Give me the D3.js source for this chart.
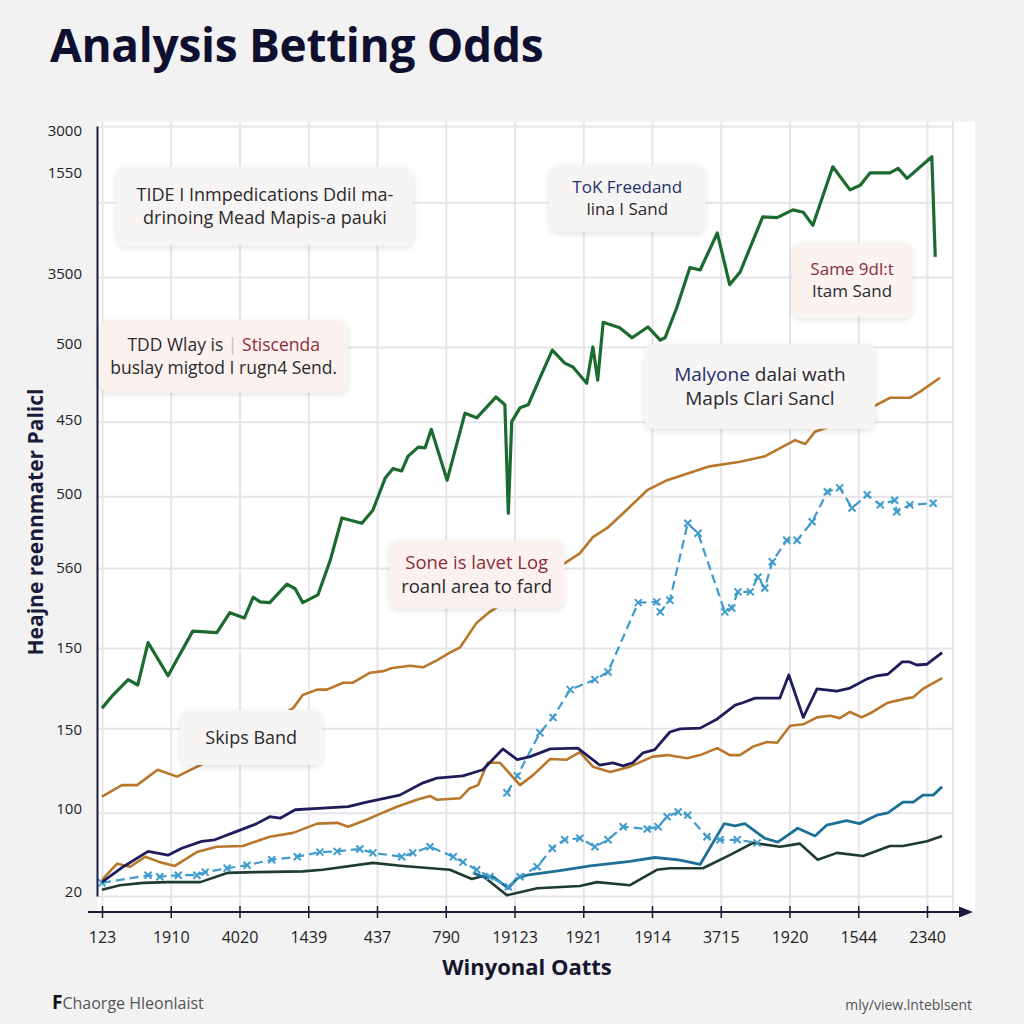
<!DOCTYPE html>
<html>
<head>
<meta charset="utf-8">
<script src="https://cdn.jsdelivr.net/npm/d3@7"></script>
<style>
  html, body { margin: 0; padding: 0; background: #f2f2f3; }
  svg { display: block; }
</style>
</head>
<body>
<svg id="chart" width="1024" height="1024"></svg>
<script>
// ---------- DATA ----------
const xTickLabels = ["123","1910","4020","1439","437","790","19123","1921","1914","3715","1920","1544","2340"];
const xTickValues = [0,10,20,30,40,50,60,70,80,90,100,110,120];
const yTickLabels = ["20","100","150","150","560","500","450","500","3500","1550","3000"];
const yTickValues = [0.6,11.3,21.6,32.3,42.6,52.2,61.8,71.7,80.8,94.0,99.4];
const yGridValues = [0,10.8,21.8,32.2,42.6,51.9,61.6,71.3,80.4,90.1,100];

// series: [x, value]
const greenSeries = [[0,24.4],[1.6,26.1],[3.8,28.1],[5.2,27.4],[6.7,32.9],[9.6,28.6],[13.2,34.4],[16.7,34.2],[18.6,36.8],[20.7,36.1],[22.0,38.8],[23.0,38.2],[24.4,38.1],[26.9,40.5],[28.1,39.9],[29.2,38.1],[31.4,39.1],[33.2,43.6],[34.9,49.1],[37.8,48.4],[39.4,50.1],[41.2,54.3],[42.3,55.5],[43.6,55.2],[44.5,57.1],[46.0,58.3],[47.0,58.2],[47.9,60.6],[50.2,54.0],[52.8,62.7],[54.5,62.1],[57.3,64.8],[58.6,63.8],[59.1,49.7],[59.6,61.6],[60.8,63.4],[62.0,63.8],[63.7,67.3],[65.5,70.9],[67.3,69.2],[68.5,68.7],[70.5,66.6],[71.4,71.3],[72.1,67.0],[72.9,74.5],[75.3,73.8],[77.1,72.5],[79.4,73.9],[81.2,72.2],[81.9,72.5],[83.6,76.4],[85.5,81.6],[87.0,81.3],[89.5,86.1],[91.3,79.4],[92.8,81.0],[96.1,88.2],[98.2,88.1],[100.5,89.1],[102.0,88.8],[103.4,87.1],[106.3,94.7],[108.8,91.7],[110.3,92.3],[111.7,93.9],[114.6,93.9],[115.8,94.5],[117.1,93.2],[120.7,96.0],[121.2,83.0]];

const orangeUpper = [[0,12.9],[2.9,14.4],[5.1,14.4],[8.1,16.4],[10.9,15.5],[14.3,17.0],[27.8,24.4],[29.2,26.1],[31.3,26.8],[32.7,26.8],[35.1,27.7],[36.5,27.7],[39.0,29.0],[40.9,29.2],[42.2,29.6],[44.8,29.9],[46.7,29.7],[48.7,30.6],[50.6,31.6],[52.1,32.3],[54.5,35.5],[56.4,36.9],[67.6,43.4],[69.5,44.5],[71.4,46.6],[73.5,47.8],[75.8,49.7],[79.3,52.7],[82.2,54.0],[88.4,55.8],[92.8,56.4],[96.4,57.1],[100.8,59.2],[102.3,58.7],[103.7,60.3],[106.6,61.2],[110.3,62.5],[112.7,63.8],[114.6,64.7],[117.5,64.7],[119.0,65.5],[121.9,67.3]];

const navySeries = [[0,1.8],[3.1,3.8],[6.7,5.8],[9.6,5.3],[11.6,6.2],[14.5,7.1],[16.4,7.3],[19.6,8.4],[22.5,9.4],[24.4,10.3],[25.9,10.1],[28.1,11.2],[32.1,11.4],[35.8,11.6],[38.5,12.2],[43.3,13.1],[46.7,14.7],[48.7,15.3],[52.5,15.6],[55.4,16.4],[58.3,19.1],[60.4,17.7],[62.3,18.1],[65.2,19.1],[69.2,19.2],[72.4,17.0],[74.3,17.3],[75.8,16.9],[77.2,17.3],[78.7,18.6],[80.4,19.0],[82.6,21.3],[84.1,21.7],[87.0,21.8],[89.5,23.0],[92.1,24.8],[93.2,25.1],[95.0,25.7],[98.6,25.7],[99.9,28.7],[102.0,23.2],[104.0,26.9],[106.9,26.6],[108.8,27.0],[111.3,28.2],[112.7,28.6],[114.3,28.8],[116.4,30.4],[117.5,30.4],[118.5,30.0],[120.0,30.1],[122.2,31.6]];

const orangeLower = [[0,2.1],[2.2,4.2],[4.1,3.8],[6.3,5.1],[8.4,4.4],[10.6,3.9],[13.8,5.7],[16.7,6.4],[20.5,6.5],[24.4,7.7],[27.8,8.2],[31.3,9.4],[34.2,9.5],[35.8,9.0],[38.5,9.9],[40.0,10.5],[42.9,11.6],[45.8,12.5],[47.7,13.0],[48.7,12.5],[52.1,12.7],[53.5,14.0],[54.7,14.4],[56.1,17.3],[57.9,17.3],[60.8,14.4],[62.7,15.7],[65.2,17.8],[67.6,17.7],[69.5,18.7],[71.4,16.8],[73.9,16.1],[76.8,16.8],[80.1,18.1],[82.2,18.3],[85.1,17.9],[87.0,18.3],[89.5,19.2],[91.3,18.3],[92.8,18.3],[94.7,19.4],[96.7,20.0],[98.2,19.9],[100.1,22.1],[102.0,22.3],[104.0,23.2],[105.9,23.4],[107.3,23.1],[108.8,23.9],[110.5,23.2],[112.1,23.9],[114.3,25.1],[117.2,25.7],[118.0,25.8],[119.4,26.9],[122.2,28.3]];

const dashedUpper = [[58.9,13.4],[60.4,15.6],[63.7,21.2],[65.6,23.2],[68.1,26.8],[71.7,28.1],[73.6,29.1],[78.0,38.1],[80.7,38.2],[81.2,36.9],[82.6,38.4],[85.2,48.4],[86.7,47.1],[90.6,36.9],[91.6,37.4],[92.5,39.5],[94.3,39.5],[95.4,41.4],[96.4,40.0],[97.5,43.4],[99.6,46.2],[101.1,46.2],[103.3,48.6],[105.5,52.5],[107.3,53.0],[109.1,50.4],[111.3,52.1],[113.2,50.8],[115.3,51.4],[115.6,49.9],[117.5,50.8],[120.9,51.0]];

const dashedLower = [[0,1.7],[6.7,2.7],[8.4,2.5],[11.1,2.7],[13.8,2.7],[15.0,3.1],[18.2,3.6],[21.1,4.0],[24.7,4.7],[28.4,5.1],[31.7,5.7],[34.2,5.8],[37.5,6.1],[39.4,5.6],[43.6,5.1],[45.2,5.6],[47.7,6.4],[51.1,5.1],[52.5,4.4],[54.5,3.4],[56.4,2.5],[59.1,1.2],[60.8,2.5],[63.3,3.8],[65.5,6.2],[67.3,7.3],[69.5,7.5],[71.7,6.4],[73.6,7.3],[75.8,9.0],[79.3,8.7],[80.9,9.0],[82.2,10.3],[83.8,10.9],[85.2,10.5],[88.0,7.7],[89.9,7.3],[92.4,7.3],[95.3,6.9]];

const tealSeries = [[54.0,3.0],[55.4,2.5],[56.9,2.5],[59.1,1.0],[60.4,2.3],[61.8,2.7],[66.6,3.3],[71.0,3.9],[74.9,4.3],[76.8,4.5],[80.4,5.0],[83.9,4.7],[87.0,4.1],[90.5,9.4],[92.1,9.1],[93.5,9.4],[96.4,7.5],[98.3,7.0],[101.2,8.8],[103.7,7.8],[105.4,9.2],[108.3,9.8],[110.2,9.4],[112.7,10.5],[114.3,10.8],[116.5,12.2],[118.0,12.2],[119.4,13.1],[120.9,13.1],[122.2,14.2]];

const darkSeries = [[0,0.8],[2.6,1.4],[6.0,1.7],[9.5,1.8],[14.3,1.8],[18.2,3.0],[22.5,3.1],[29.2,3.2],[32.1,3.4],[39.4,4.3],[43.8,3.9],[50.6,3.4],[53.8,2.2],[55.4,2.6],[58.9,0.1],[63.3,1.0],[69.5,1.3],[72.0,1.8],[76.8,1.4],[80.7,3.4],[82.6,3.6],[87.4,3.6],[91.3,5.3],[94.7,6.9],[98.6,6.4],[101.5,6.8],[104.1,4.7],[106.9,5.6],[110.7,5.2],[114.6,6.5],[116.5,6.5],[120.0,7.1],[122.2,7.8]];

// annotation boxes: centre in data units, text lines as parts [text, colorKey]
const annotations = [
  {x: 23.7, y: 89.6, w: 296, h: 79, lines: [[["TIDE I Inmpedications Ddil ma-","ink"]],[["drinoing Mead Mapis-a pauki","ink"]]], size: 18, fill: "#f7f5f3"},
  {x: 76.4, y: 90.6, w: 156, h: 67, lines: [[["ToK Freedand","navy"]],[["lina I Sand","ink"]]], size: 17, fill: "#f7f5f3"},
  {x: 109.1, y: 80.0, w: 120, h: 75, lines: [[["Same 9dl:t","red"]],[["Itam Sand","ink"]]], size: 17, fill: "#faf3f0"},
  {x: 17.7, y: 70.1, w: 248, h: 72, lines: [[["TDD Wlay is  ","ink"],["|  ","faint"],["Stiscenda","red"]],[["buslay migtod I rugn4 Send.","ink"]]], size: 17.5, fill: "#fbf2ef"},
  {x: 95.7, y: 66.2, w: 230, h: 85, lines: [[["Malyone","navy"],[" dalai wath","ink"]],[["Mapls Clari Sancl","ink"]]], size: 19, fill: "#f7f5f3"},
  {x: 54.5, y: 41.8, w: 175, h: 68, lines: [[["Sone is lavet Log","red"]],[["roanl area to fard","ink"]]], size: 18.5, fill: "#fbf2ef"},
  {x: 21.7, y: 20.6, w: 142, h: 55, lines: [[["Skips Band","ink"]]], size: 18, fill: "#f7f5f3"}
];

const palette = {ink: "#2a2a2e", navy: "#24306e", red: "#8c2d3c", faint: "#d8b7b0"};

// ---------- CHART ----------
const svg = d3.select("#chart");
const plot = {left: 97, right: 953, top: 122, bottom: 912};

const x = d3.scaleLinear().domain([0, 120]).range([102, 927]);
const y = d3.scaleLinear().domain([0, 100]).range([896, 126]);

const defs = svg.append("defs");
const f = defs.append("filter").attr("id", "shadow").attr("x", "-10%").attr("y", "-20%").attr("width", "120%").attr("height", "150%");
f.append("feDropShadow").attr("dx", 0).attr("dy", 2).attr("stdDeviation", 3).attr("flood-color", "#000").attr("flood-opacity", 0.12);
defs.append("marker").attr("id", "arrow").attr("viewBox", "0 0 10 10").attr("refX", 5).attr("refY", 5)
  .attr("markerWidth", 7).attr("markerHeight", 7).attr("orient", "auto")
  .append("path").attr("d", "M0,1 L10,5 L0,9 z").attr("fill", "#1a1a40");

// plot background
svg.append("rect").attr("x", plot.left).attr("y", plot.top).attr("width", 975 - plot.left).attr("height", plot.bottom - plot.top)
  .attr("fill", "#ffffff");

// grid
const gridG = svg.append("g");
gridG.append("g").attr("transform", `translate(0,${plot.bottom})`)
  .call(d3.axisBottom(x).tickValues(xTickValues).tickSize(plot.bottom - plot.top).tickFormat(""))
  .call(g => g.select(".domain").remove())
  .call(g => g.selectAll("line").attr("stroke", "#e6e6ea").attr("stroke-width", 2).attr("transform", "scale(1,-1)"));
gridG.append("g").attr("transform", `translate(${plot.left},0)`)
  .call(d3.axisRight(y).tickValues(yGridValues).tickSize(plot.right - plot.left).tickFormat(""))
  .call(g => g.select(".domain").remove())
  .call(g => g.selectAll("line").attr("stroke", "#e6e6ea").attr("stroke-width", 2));
gridG.append("line").attr("x1", plot.right).attr("x2", plot.right).attr("y1", plot.top).attr("y2", plot.bottom)
  .attr("stroke", "#e6e6ea").attr("stroke-width", 2);

// lines
const line = d3.line().x(d => x(d[0])).y(d => y(d[1]));
function drawLine(data, color, width, dash) {
  svg.append("path").datum(data).attr("d", line).attr("fill", "none")
    .attr("stroke", color).attr("stroke-width", width).attr("stroke-linejoin", "round")
    .attr("stroke-dasharray", dash || null);
}
function drawCrosses(data, color) {
  svg.append("g").selectAll("path").data(data).join("path")
    .attr("d", d => { const cx = x(d[0]), cy = y(d[1]), s = 3.5;
      return `M${cx-s},${cy-s}L${cx+s},${cy+s}M${cx-s},${cy+s}L${cx+s},${cy-s}`; })
    .attr("stroke", color).attr("stroke-width", 2).attr("fill", "none");
}

drawLine(darkSeries, "#1e3b2f", 2.6);
drawLine(tealSeries, "#1f7096", 2.8);
drawLine(dashedLower, "#3f9ccc", 2.2, "9,5");
drawCrosses(dashedLower, "#3f9ccc");
drawLine(dashedUpper, "#3f9ccc", 2.2, "9,5");
drawCrosses(dashedUpper, "#3f9ccc");
drawLine(orangeLower, "#b8772b", 2.6);
drawLine(navySeries, "#1f1c5c", 2.8);
drawLine(orangeUpper, "#b8772b", 2.6);
drawLine(greenSeries, "#1b6b30", 3.2);

// annotations
annotations.forEach(a => {
  const g = svg.append("g").attr("transform", `translate(${x(a.x)},${y(a.y)})`);
  g.append("rect").attr("x", -a.w / 2).attr("y", -a.h / 2).attr("width", a.w).attr("height", a.h)
    .attr("rx", 9).attr("fill", a.fill).attr("filter", "url(#shadow)");
  const lh = a.size * 1.3;
  const n = a.lines.length;
  a.lines.forEach((parts, i) => {
    const t = g.append("text").attr("text-anchor", "middle")
      .attr("y", (i - (n - 1) / 2) * lh + a.size * 0.35)
      .attr("font-family", "'Open Sans', sans-serif").attr("font-size", a.size);
    parts.forEach(p => t.append("tspan").text(p[0]).attr("fill", palette[p[1]]));
  });
});

// axes
const xAxisG = svg.append("g").attr("transform", `translate(0,${plot.bottom})`)
  .call(d3.axisBottom(x).tickValues(xTickValues).tickFormat((d, i) => xTickLabels[i]).tickSize(6).tickPadding(14));
xAxisG.select(".domain").remove();
xAxisG.selectAll(".tick line").attr("y1", -6).attr("stroke", "#1a1a40").attr("stroke-width", 1.5);
xAxisG.selectAll(".tick text").attr("font-family", "'Open Sans', sans-serif").attr("font-size", 16).attr("fill", "#222");
svg.append("line").attr("x1", 88).attr("x2", 966).attr("y1", plot.bottom).attr("y2", plot.bottom)
  .attr("stroke", "#1a1a40").attr("stroke-width", 2).attr("marker-end", "url(#arrow)");

const yAxisG = svg.append("g").attr("transform", `translate(${plot.left},0)`)
  .call(d3.axisLeft(y).tickValues(yTickValues).tickFormat((d, i) => yTickLabels[i]).tickSize(0).tickPadding(15));
yAxisG.select(".domain").attr("stroke", "#1a1a40").attr("stroke-width", 2);
yAxisG.selectAll(".tick text").attr("font-family", "'Open Sans', sans-serif").attr("font-size", 15).attr("fill", "#222");

// titles
svg.append("text").attr("x", 50).attr("y", 62).text("Analysis Betting Odds")
  .attr("font-family", "'Open Sans', sans-serif").attr("font-weight", 700).attr("font-size", 46).attr("fill", "#0f1030")
  .attr("letter-spacing", -0.3);
svg.append("text").attr("transform", "translate(43,522) rotate(-90)").attr("text-anchor", "middle")
  .text("Heajne reennmater Palicl").attr("font-family", "'Open Sans', sans-serif").attr("font-weight", 700)
  .attr("font-size", 21).attr("fill", "#1a1a3a");
svg.append("text").attr("x", 527).attr("y", 975).attr("text-anchor", "middle").text("Winyonal Oatts")
  .attr("font-family", "'Open Sans', sans-serif").attr("font-weight", 700).attr("font-size", 22).attr("fill", "#15152e");

// footer
const ft = svg.append("text").attr("x", 52).attr("y", 1009).attr("font-family", "'Open Sans', sans-serif");
ft.append("tspan").text("F").attr("font-weight", 700).attr("font-size", 19).attr("fill", "#111");
ft.append("tspan").text("Chaorge Hleonlaist").attr("font-size", 16).attr("fill", "#555");
svg.append("text").attr("x", 972).attr("y", 1010).attr("text-anchor", "end").text("mly/view.lnteblsent")
  .attr("font-family", "'Open Sans', sans-serif").attr("font-size", 14).attr("fill", "#555");
</script>
</body>
</html>
